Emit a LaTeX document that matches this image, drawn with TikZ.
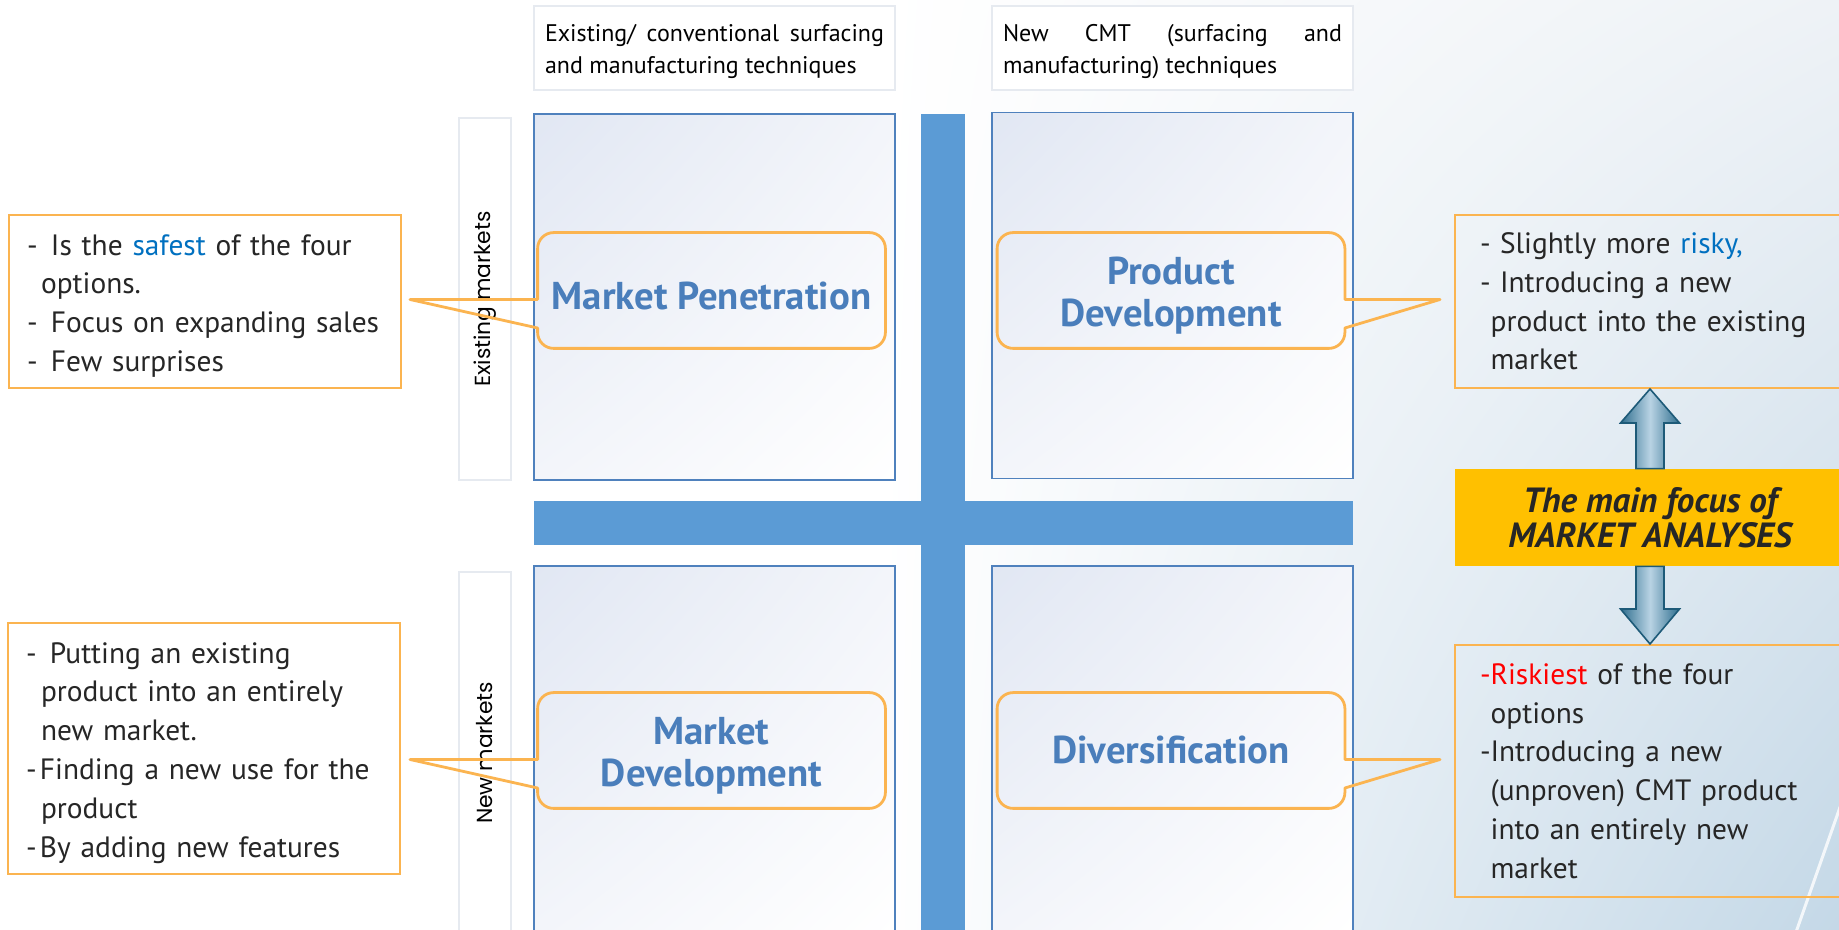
\documentclass[tikz,border=0pt]{standalone}
\usepackage{fontspec}
\setmainfont{PT Sans}
\newfontfamily\rowfont{Poppins}
\usetikzlibrary{positioning,calc,shadings}
\definecolor{barblue}{HTML}{5B9BD5}
\definecolor{quadline}{HTML}{4F81BD}
\definecolor{quadtint}{HTML}{E1E7F3}
\definecolor{quadmid}{HTML}{F3F5FA}
\definecolor{titleblue}{HTML}{4A7EBB}
\definecolor{calline}{HTML}{FBB450}
\definecolor{keyblue}{HTML}{0070C0}
\definecolor{keyred}{HTML}{FF0000}
\definecolor{focusfill}{HTML}{FFC000}
\definecolor{bodytext}{HTML}{262626}
\definecolor{paleline}{HTML}{E6EAF0}
\definecolor{arrowdark}{HTML}{2E6E8E}
\definecolor{arrowlight}{HTML}{B9D3E4}
\definecolor{arrowedge}{HTML}{1D5A78}
\definecolor{bgpale}{HTML}{EEF2F6}
\definecolor{bgblue}{HTML}{C4D8E7}
\tikzset{
  quad/.style={draw=quadline, line width=0.9pt, shade, upper left=quadtint, upper right=quadmid, lower left=quadmid, lower right=white, minimum width=180.5pt, minimum height=183pt, inner sep=0pt},
  headbox/.style={draw=paleline, line width=1pt, fill=white, minimum width=180.5pt, minimum height=42pt, inner sep=0pt},
  headtext/.style={yshift=-1.75pt, text width=169.5pt, inner sep=0pt, align=justify, font=\fontsize{12}{15.8}\selectfont},
  rowbox/.style={draw=paleline, line width=0.8pt, fill=white, rotate=90, minimum width=181pt, minimum height=26pt, inner sep=0pt, font=\rowfont\fontsize{10.9}{12}\selectfont},
  bar/.style={fill=barblue},
  callbox/.style={minimum width=173.5pt, minimum height=57.5pt, inner sep=0pt},
  titletext/.style={yshift=-2.5pt, inner sep=0pt, align=center, text=titleblue, font=\fontsize{19.4}{21}\selectfont\bfseries},
  callline/.style={draw=calline, line width=1.4pt, line join=round},
  notebox/.style={draw=calline, line width=1pt, inner ysep=0pt, align=left, text=bodytext, font=\fontsize{14.7}{19.4}\selectfont},
  leftnote/.style={draw=calline, line width=1pt, fill=white, minimum width=196pt, inner sep=0pt},
  lefttext/.style={yshift=-2.2pt, inner sep=0pt, text width=178pt, align=left, text=bodytext, font=\fontsize{14.7}{19.4}\selectfont},
  rightnote/.style={notebox, inner xsep=12.5pt, text width=170pt},
  focusbox/.style={fill=focusfill, minimum width=195.5pt, minimum height=48.5pt, inner sep=0pt, align=center, text=bodytext, font=\fontsize{17.5}{17.6}\selectfont\bfseries\itshape},
  fatarrow/.style={left color=arrowdark, right color=arrowdark, middle color=arrowlight, draw=arrowedge, line width=0.8pt, line join=miter}
}
\begin{document}
\begin{tikzpicture}[x=0.5pt,y=0.5pt]
\newcommand{\crad}{8pt}
\newcommand{\callw}[2]{\draw [callline] ([yshift=-4.5pt]#1.west) -- (#2) -- ([yshift=-18.75pt]#1.west) -- ([yshift=\crad]#1.south west) arc [start angle=180, end angle=270, radius=\crad] -- ([xshift=-\crad]#1.south east) arc [start angle=270, end angle=360, radius=\crad] -- ([yshift=-\crad]#1.north east) arc [start angle=0, end angle=90, radius=\crad] -- ([xshift=\crad]#1.north west) arc [start angle=90, end angle=180, radius=\crad] -- cycle;}
\newcommand{\calle}[2]{\draw [callline] ([yshift=-4.5pt]#1.east) -- (#2) -- ([yshift=-18.75pt]#1.east) -- ([yshift=\crad]#1.south east) arc [start angle=0, end angle=-90, radius=\crad] -- ([xshift=\crad]#1.south west) arc [start angle=270, end angle=180, radius=\crad] -- ([yshift=-\crad]#1.north west) arc [start angle=180, end angle=90, radius=\crad] -- ([xshift=-\crad]#1.north east) arc [start angle=90, end angle=0, radius=\crad] -- cycle;}
\useasboundingbox (0,0) rectangle (1839,930);
\fill [white] (0,0) rectangle (1839,930);
\shade [upper left=white, lower left=white, upper right=bgpale, lower right=bgblue] (880,0) rectangle (1839,930);
\draw [white, line width=1.5pt, opacity=0.8] (1845,137) -- (1795,-5);

\node [rowbox] (oldrow) at (485,631) {Existing markets};
\node [rowbox] (newrow) at (485,177) {New markets};
\node [quad] (penq) at (714.5,633) {};
\node [quad] (prodq) at (1172.5,634.5) {};
\node [quad] (mdevq) at (714.5,181) {};
\node [quad] (divq) at (1172.5,181) {};
\fill [bar] (921,-5) rectangle (965,816);
\fill [bar] (534,385) rectangle (1353,429);

\node [headbox, label={[headtext]center:Existing/ conventional surfacing\linebreak and manufacturing techniques}] (oldtech) at (714.5,882) {};
\node [headbox, label={[headtext]center:New CMT (surfacing and\linebreak manufacturing) techniques}] (newtech) at (1172.5,882) {};

\node [leftnote, minimum height=86.5pt, label={[lefttext]center:\makebox[12pt][l]{-}Is the \textcolor{keyblue}{safest} of the four\\ \hspace*{7pt}options.\\ \makebox[12pt][l]{-}Focus on expanding sales\\ \makebox[12pt][l]{-}Few surprises}] (safe) at (205,628.5) {};
\node [leftnote, minimum height=125.5pt, label={[lefttext]center:\makebox[12pt][l]{-}Putting an existing\\ \hspace*{7.5pt}product into an entirely\\ \hspace*{7.5pt}new market.\\ \makebox[7pt][l]{-}Finding a new use for the\\ \hspace*{7.5pt}product\\ \makebox[7pt][l]{-}By adding new features}] (newuse) at (204,181.5) {};
\node [rightnote, minimum height=86.5pt] (risky) at (1650,628.5) {\makebox[10pt][l]{-}Slightly more \textcolor{keyblue}{risky,}\\ \makebox[10pt][l]{-}Introducing a new\\ \hspace*{5.3pt}product into the existing\\ \hspace*{5.3pt}market};
\node [rightnote, minimum height=126pt] (riskiest) at (1650,159) {\textcolor{keyred}{\makebox[5.3pt][l]{-}Riskiest} of the four\\ \hspace*{5.3pt}options\\ \makebox[5.3pt][l]{-}Introducing a new\\ \hspace*{5.3pt}(unproven) CMT product\\ \hspace*{5.3pt}into an entirely new\\ \hspace*{5.3pt}market};
\node [focusbox] (focus) at (1650,412.5) {The main focus of\\MARKET ANALYSES};

\shadedraw [fatarrow] ($(focus.north)+(-14,0)$) -- ($(risky.south)+(-14,-34)$) -- ($(risky.south)+(-29.5,-34)$) -- (risky.south) -- ($(risky.south)+(29.5,-34)$) -- ($(risky.south)+(14,-34)$) -- ($(focus.north)+(14,0)$) -- cycle;
\shadedraw [fatarrow] ($(focus.south)+(-14,0)$) -- ($(riskiest.north)+(-14,35)$) -- ($(riskiest.north)+(-29.5,35)$) -- (riskiest.north) -- ($(riskiest.north)+(29.5,35)$) -- ($(riskiest.north)+(14,35)$) -- ($(focus.south)+(14,0)$) -- cycle;

\node [callbox, label={[titletext]center:Market Penetration}] (pen) at (711.5,639.5) {};
\node [callbox, label={[titletext]center:Product\\Development}] (prod) at (1171,639.5) {};
\node [callbox, label={[titletext]center:Market\\Development}] (mdev) at (711.5,179.5) {};
\node [callbox, label={[titletext, yshift=3pt]center:Diversification}] (div) at (1171,179.5) {};
\coordinate (pentip) at (410,630.5);
\coordinate (prodtip) at (1440,630.5);
\coordinate (mdevtip) at (410,170.5);
\coordinate (divtip) at (1440,170.5);
\callw{pen}{pentip}
\calle{prod}{prodtip}
\callw{mdev}{mdevtip}
\calle{div}{divtip}
\end{tikzpicture}
\end{document}
